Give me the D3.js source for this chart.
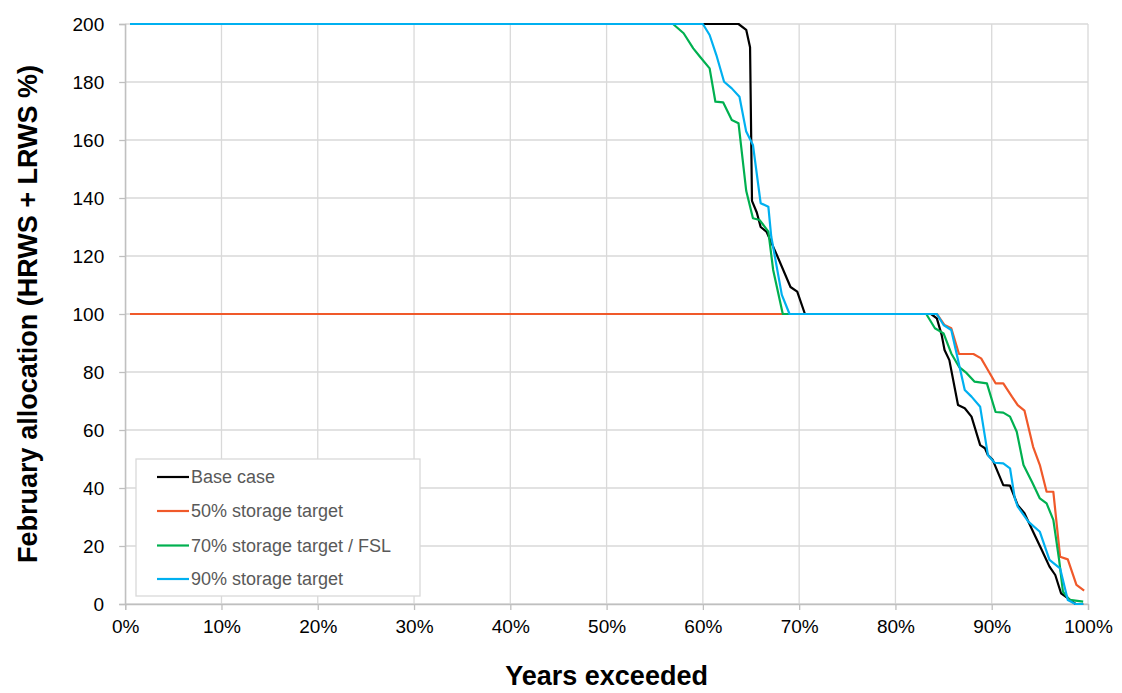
<!DOCTYPE html>
<html><head><meta charset="utf-8">
<script src="https://cdn.jsdelivr.net/npm/d3@7"></script>
<style>
html,body{margin:0;padding:0;background:#fff;}
svg{display:block;font-family:"Liberation Sans",Arial,sans-serif;}
</style></head>
<body>
<svg id="c" width="1122" height="693"></svg>
<script>
const xTicks = [0,10,20,30,40,50,60,70,80,90,100];
const yTicks = [0,20,40,60,80,100,120,140,160,180,200];
const seriesNames = ["Base case","50% storage target","70% storage target / FSL","90% storage target"];
const seriesColors = ["#000000","#F0592A","#00B050","#00B0F0"];

const baseX = [0.5,63.7,64.5,64.9,65.1,65.6,66.0,66.6,67.6,69.1,69.8,70.6,83.7,84.3,84.8,85.1,85.6,86.5,87.2,87.9,88.8,89.3,89.6,90.1,91.2,91.9,92.7,93.4,94.3,95.2,96.0,96.6,97.2,97.9,98.7,99.5];
const baseY = [200,200,198,192,139,135,130,128.4,121,109.3,107.7,100,100,98.5,92.8,87.6,84.1,68.6,67.5,64.6,54.8,53.7,51.4,49.7,41,40.8,34.1,31.3,24.9,18.6,12.9,10,3.7,2,0,0];

const s50X = [0.5,84.3,85.1,85.8,86.6,88.1,88.9,89.6,90.4,91.2,92.1,92.7,93.4,94.3,95.0,95.7,96.4,97.1,97.9,98.8,99.6];
const s50Y = [100,100,96.2,95.1,86.2,86.2,84.7,80.7,76.1,76.1,71.5,68.6,66.7,54.2,47.9,38.7,38.7,16.3,15.4,6.6,4.6];

const s70X = [0.5,56.9,58.0,59.0,59.7,60.7,61.3,62.1,63.0,63.7,64.5,65.2,65.9,66.8,67.3,68.3,83.2,84.1,85.0,85.8,86.6,87.4,88.2,89.5,90.4,91.2,91.9,92.6,93.3,94.2,95.0,95.7,96.4,97.0,97.4,98.1,99.5];
const s70Y = [200,200,196.8,191.6,188.7,184.7,173.2,173,166.9,165.8,142.5,133,132.4,128.4,115.2,100,100,95.1,93.3,86.4,81.8,79.6,76.7,76.1,66.2,66,64.6,59.4,47.9,42,36.4,34.7,29,15.2,4.2,1.4,0.8];

const s90X = [0.5,60.0,60.7,61.4,62.2,63.0,63.8,64.5,65.2,66.0,66.8,67.1,68.2,69.0,84.3,85.0,85.8,86.5,87.2,87.9,88.8,89.6,90.3,91.2,91.9,92.4,92.7,93.8,95.0,96.0,97.1,97.9,98.7,99.5];
const s90Y = [200,200,196.2,189.3,180.1,177.8,174.9,162.9,158.3,138.2,137,126.7,106.6,100,100,96.2,94.5,84.1,73.8,71.5,68,51.4,48.7,48.5,46.8,36.4,33.6,28.4,24.9,15.2,12.3,1.4,0,0];

const seriesX = [baseX,s50X,s70X,s90X];
const seriesY = [baseY,s50Y,s70Y,s90Y];

const svg = d3.select("#c");
const L = 125.2, R = 1088, T = 24, B = 604;
const x = d3.scaleLinear().domain([0,100]).range([L,R]);
const y = d3.scaleLinear().domain([0,200]).range([B,T]);
const grid = "#d9d9d9";

svg.append("g").selectAll("line").data(xTicks).join("line")
  .attr("x1",d=>x(d)).attr("x2",d=>x(d)).attr("y1",T).attr("y2",B)
  .attr("stroke",grid).attr("stroke-width",1.3);
svg.append("g").selectAll("line").data(yTicks).join("line")
  .attr("x1",L).attr("x2",R).attr("y1",d=>y(d)).attr("y2",d=>y(d))
  .attr("stroke",grid).attr("stroke-width",1.3);

const xAxis = svg.append("g").attr("transform",`translate(0,${B})`)
  .call(d3.axisBottom(x).tickValues(xTicks).tickFormat(d=>d+"%").tickSize(6).tickPadding(10));
const yAxis = svg.append("g").attr("transform",`translate(${L},0)`)
  .call(d3.axisLeft(y).tickValues(yTicks).tickSize(6).tickPadding(15));
[xAxis,yAxis].forEach(a=>{
  a.select(".domain").attr("stroke","#bfbfbf").attr("stroke-width",1.3);
  a.selectAll(".tick line").attr("stroke","#bfbfbf").attr("stroke-width",1.3);
  a.selectAll("text").attr("fill","#000").style("font-size","19px").style("font-family","'Liberation Sans',Arial,sans-serif");
});

const line = d3.line().x(d=>x(d[0])).y(d=>y(d[1]));
seriesNames.forEach((n,i)=>{
  const pts = seriesX[i].map((v,j)=>[v,seriesY[i][j]]);
  svg.append("path").datum(pts).attr("d",line).attr("fill","none")
    .attr("stroke",seriesColors[i]).attr("stroke-width",2.2).attr("stroke-linejoin","round");
});

const lg = svg.append("g");
lg.append("rect").attr("x",136).attr("y",459).attr("width",284).attr("height",137)
  .attr("fill","#fff").attr("stroke","#d9d9d9").attr("stroke-width",1.3);
const rows = [477,511,545.5,579];
seriesNames.forEach((n,i)=>{
  lg.append("line").attr("x1",157).attr("x2",189).attr("y1",rows[i]).attr("y2",rows[i])
    .attr("stroke",seriesColors[i]).attr("stroke-width",2.2);
  lg.append("text").attr("x",191).attr("y",rows[i]).attr("dy","0.35em")
    .attr("fill","#595959").style("font-size","18px").text(n);
});

svg.append("text").attr("x",(L+R)/2).attr("y",685).attr("text-anchor","middle")
  .style("font-size","27px").style("font-weight","bold").attr("fill","#000").text("Years exceeded");
svg.append("text").attr("transform",`translate(37,${(T+B)/2}) rotate(-90)`).attr("text-anchor","middle")
  .style("font-size","27px").style("font-weight","bold").attr("fill","#000").text("February allocation (HRWS + LRWS %)");
</script>
</body></html>
